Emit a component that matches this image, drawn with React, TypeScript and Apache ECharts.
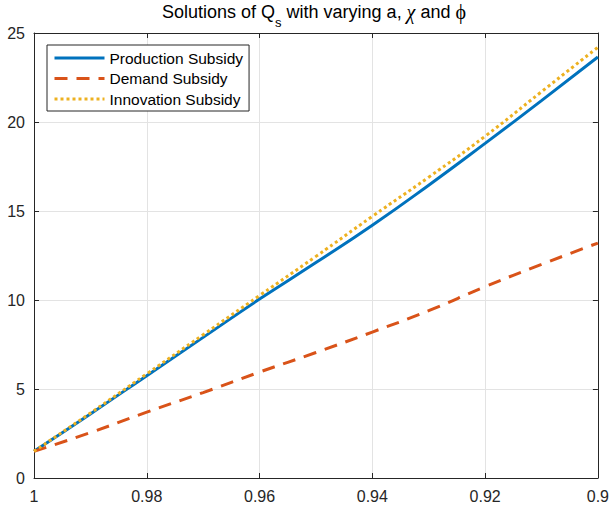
import React, { useEffect, useRef } from "react";
import * as echarts from "echarts";

const xValues = [1, 0.99, 0.98, 0.97, 0.96, 0.95, 0.94, 0.93, 0.92, 0.91, 0.9];
const production = [1.5, 3.6, 5.75, 7.9, 10.05, 12.1, 14.2, 16.45, 18.8, 21.2, 23.65];
const demand = [1.5, 2.55, 3.7, 4.8, 5.95, 7.05, 8.2, 9.4, 10.75, 12.0, 13.2];
const innovation = [1.5, 3.65, 5.85, 8.05, 10.25, 12.45, 14.7, 16.9, 19.2, 21.7, 24.2];
const seriesNames = ["Production Subsidy", "Demand Subsidy", "Innovation Subsidy"];

const AXIS = "#262626";
const GRID = "#e3e3e3";
const FONT = "Liberation Sans, Arial, sans-serif";

export default function App() {
  const ref = useRef<HTMLDivElement>(null);
  useEffect(() => {
    if (!ref.current) return;
    const chart = echarts.init(ref.current, undefined, { renderer: "svg" });
    const pairs = (ys: number[]) => xValues.map((x, i) => [x, ys[i]]);
    const fmt = (v: number) => String(+v.toFixed(2));
    chart.setOption({
      animation: false,
      backgroundColor: "#ffffff",
      title: {
        text: "{a|Solutions of Q}{s|s}{a| with varying a, }{g|χ}{a| and }{h|ϕ}",
        left: 314,
        textAlign: "center",
        top: 0,
        padding: 0,
        textStyle: {
          fontWeight: "normal",
          rich: {
            a: { fontFamily: FONT, fontSize: 18, fontWeight: "normal", color: "#000", lineHeight: 24, verticalAlign: "middle" },
            s: { fontFamily: FONT, fontSize: 13, fontWeight: "normal", color: "#000", lineHeight: 24, verticalAlign: "bottom", padding: [0, 0, -5, 0] },
            g: { fontFamily: "Liberation Serif, DejaVu Serif, serif", fontSize: 20, fontWeight: "normal", fontStyle: "italic", color: "#000", lineHeight: 24, verticalAlign: "middle" },
            h: { fontFamily: "Liberation Serif, DejaVu Serif, serif", fontSize: 20, fontWeight: "normal", color: "#000", lineHeight: 24, verticalAlign: "middle" },
          },
        },
      },
      legend: {
        orient: "vertical",
        left: 47,
        top: 45,
        padding: [5, 6, 4, 6],
        itemGap: 4.5,
        itemWidth: 50,
        itemHeight: 18,
        borderColor: AXIS,
        borderWidth: 1,
        borderRadius: 0,
        backgroundColor: "#fff",
        itemStyle: { opacity: 0 },
        lineStyle: { width: 3 },
        textStyle: { fontFamily: FONT, fontSize: 15.5, color: "#000" },
        data: seriesNames,
      },
      grid: { left: 34, right: 13, top: 33, bottom: 28 },
      xAxis: [
        {
          type: "value",
          inverse: true,
          min: 0.9,
          max: 1,
          interval: 0.02,
          axisLine: { lineStyle: { color: AXIS, width: 1 } },
          axisTick: { inside: true, length: 5, lineStyle: { color: AXIS } },
          axisLabel: { formatter: fmt, color: AXIS, fontFamily: FONT, fontSize: 16, margin: 10 },
          splitLine: { show: true, lineStyle: { color: GRID, width: 1 } },
        },
        {
          type: "value",
          inverse: true,
          position: "top",
          min: 0.9,
          max: 1,
          interval: 0.02,
          axisLine: { onZero: false, lineStyle: { color: AXIS, width: 1 } },
          axisTick: { inside: true, length: 5, lineStyle: { color: AXIS } },
          axisLabel: { show: false },
          splitLine: { show: false },
        },
      ],
      yAxis: [
        {
          type: "value",
          min: 0,
          max: 25,
          interval: 5,
          axisLine: { show: true, lineStyle: { color: AXIS, width: 1 } },
          axisTick: { show: true, inside: true, length: 5, lineStyle: { color: AXIS } },
          axisLabel: { color: AXIS, fontFamily: FONT, fontSize: 16, margin: 9 },
          splitLine: { show: true, lineStyle: { color: GRID, width: 1 } },
        },
        {
          type: "value",
          position: "right",
          min: 0,
          max: 25,
          interval: 5,
          axisLine: { show: true, onZero: false, lineStyle: { color: AXIS, width: 1 } },
          axisTick: { show: true, inside: true, length: 5, lineStyle: { color: AXIS } },
          axisLabel: { show: false },
          splitLine: { show: false },
        },
      ],
      series: [
        {
          name: seriesNames[0],
          type: "line",
          data: pairs(production),
          smooth: true,
          symbol: "none",
          z: 2,
          lineStyle: { color: "#0072BD", width: 3 },
          itemStyle: { color: "#0072BD" },
        },
        {
          name: seriesNames[1],
          type: "line",
          data: pairs(demand),
          smooth: true,
          symbol: "none",
          z: 3,
          lineStyle: { color: "#D95319", width: 3, type: [13, 9] },
          itemStyle: { color: "#D95319" },
        },
        {
          name: seriesNames[2],
          type: "line",
          data: pairs(innovation),
          smooth: true,
          symbol: "none",
          z: 4,
          lineStyle: { color: "#EDB120", width: 3, type: [3, 3] },
          itemStyle: { color: "#EDB120" },
        },
      ],
    });
    return () => chart.dispose();
  }, []);
  return <div ref={ref} style={{ width: 612, height: 506, position: "absolute", left: 0, top: 0 }} />;
}
